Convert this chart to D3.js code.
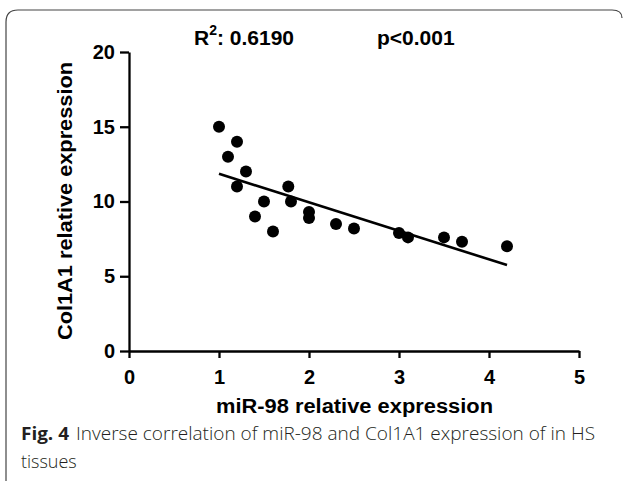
<!DOCTYPE html>
<html>
<head>
<meta charset="utf-8">
<script src="https://cdn.jsdelivr.net/npm/d3@7"></script>
<style>
    body { margin: 0; background: #fff; }
    svg { display: block; }
    .tick text { font-family: "Liberation Sans", Arial, sans-serif; font-weight: bold; font-size: 20px; fill: #000; }
</style>
</head>
<body>
<svg id="chart"></svg>
<script>
// miR-98 (x) vs Col1A1 (y) per sample
const mirValues = [1.0, 1.1, 1.2, 1.2, 1.3, 1.4, 1.5, 1.6, 1.77, 1.8, 2.0, 2.0, 2.3, 2.5, 3.0, 3.1, 3.5, 3.7, 4.2];
const colValues = [15.0, 13.0, 14.0, 11.0, 12.0, 9.0, 10.0, 8.0, 11.0, 10.0, 9.3, 8.9, 8.5, 8.2, 7.9, 7.6, 7.6, 7.3, 7.0];

// fitted regression line ends
const fitX = [1.0, 4.2];
const fitY = [11.85, 5.75];

const xTicks = [0, 1, 2, 3, 4, 5];
const yTicks = [0, 5, 10, 15, 20];

const width = 626, height = 481;
const margin = { top: 52, right: 47, bottom: 130, left: 129 };

const svg = d3.select("#chart")
    .attr("width", width)
    .attr("height", height);

// frame of the figure panel
svg.append("path")
    .attr("d", "M622,18 Q622,10 612,10 L18,10 Q6,10 6,22 L6,481")
    .attr("fill", "none")
    .attr("stroke", "#444")
    .attr("stroke-width", 1.2);

const xscale = d3.scaleLinear()
    .domain([0, 5])
    .range([margin.left, width - margin.right]);

const yscale = d3.scaleLinear()
    .domain([0, 20])
    .range([height - margin.bottom, margin.top]);

const xaxis = d3.axisBottom(xscale)
    .tickValues(xTicks)
    .tickFormat(d3.format("d"))
    .tickSize(7)
    .tickSizeOuter(0)
    .tickPadding(12);

const yaxis = d3.axisLeft(yscale)
    .tickValues(yTicks)
    .tickFormat(d3.format("d"))
    .tickSize(9)
    .tickSizeOuter(0)
    .tickPadding(5);

const xaxis_group = svg.append("g")
    .attr("transform", `translate(0, ${yscale(0)})`)
    .call(xaxis);

const yaxis_group = svg.append("g")
    .attr("transform", `translate(${xscale(0)}, 0)`)
    .call(yaxis);

[xaxis_group, yaxis_group].forEach(g => {
    g.select(".domain").attr("stroke", "#000").attr("stroke-width", 2.3);
    g.selectAll(".tick line").attr("stroke", "#000").attr("stroke-width", 2.3);
});

// regression line
svg.append("line")
    .attr("x1", xscale(fitX[0]))
    .attr("y1", yscale(fitY[0]))
    .attr("x2", xscale(fitX[1]))
    .attr("y2", yscale(fitY[1]))
    .attr("stroke", "#000")
    .attr("stroke-width", 2.6);

// points
svg.selectAll(".dot")
    .data(mirValues.map((x, i) => ({ x: x, y: colValues[i] })))
    .join("circle")
    .attr("class", "dot")
    .attr("cx", d => xscale(d.x))
    .attr("cy", d => yscale(d.y))
    .attr("r", 6)
    .attr("fill", "#000");

// axis titles
svg.append("text")
    .attr("x", 216)
    .attr("y", 413)
    .attr("textLength", 277)
    .attr("lengthAdjust", "spacingAndGlyphs")
    .attr("font-family", "Liberation Sans, Arial, sans-serif")
    .attr("font-weight", "bold")
    .attr("font-size", 20)
    .text("miR-98 relative expression");

svg.append("text")
    .attr("transform", "translate(72, 340) rotate(-90)")
    .attr("textLength", 278)
    .attr("lengthAdjust", "spacingAndGlyphs")
    .attr("font-family", "Liberation Sans, Arial, sans-serif")
    .attr("font-weight", "bold")
    .attr("font-size", 20)
    .text("Col1A1 relative expression");

// statistics
const r2 = svg.append("text")
    .attr("x", 194)
    .attr("y", 45)
    .attr("font-family", "Liberation Sans, Arial, sans-serif")
    .attr("font-weight", "bold")
    .attr("font-size", 21);
r2.append("tspan").text("R");
r2.append("tspan").attr("dy", -10).attr("font-size", 14).text("2");
r2.append("tspan").attr("dy", 10).text(": 0.6190");

svg.append("text")
    .attr("x", 377)
    .attr("y", 45)
    .attr("font-family", "Liberation Sans, Arial, sans-serif")
    .attr("font-weight", "bold")
    .attr("font-size", 21)
    .text("p<0.001");

// caption
svg.append("text")
    .attr("x", 21)
    .attr("y", 440)
    .attr("textLength", 48)
    .attr("lengthAdjust", "spacingAndGlyphs")
    .attr("font-family", "Open Sans, sans-serif")
    .attr("font-size", 18)
    .attr("font-weight", "bold")
    .attr("fill", "#231f20")
    .text("Fig. 4");

svg.append("text")
    .attr("x", 76)
    .attr("y", 440)
    .attr("textLength", 519)
    .attr("lengthAdjust", "spacingAndGlyphs")
    .attr("font-family", "Open Sans, sans-serif")
    .attr("font-size", 18)
    .attr("font-weight", 300)
    .attr("fill", "#231f20")
    .text("Inverse correlation of miR-98 and Col1A1 expression of in HS");

svg.append("text")
    .attr("x", 21)
    .attr("y", 468)
    .attr("font-family", "Open Sans, sans-serif")
    .attr("font-size", 18)
    .attr("font-weight", 300)
    .attr("fill", "#231f20")
    .text("tissues");
</script>
</body>
</html>
